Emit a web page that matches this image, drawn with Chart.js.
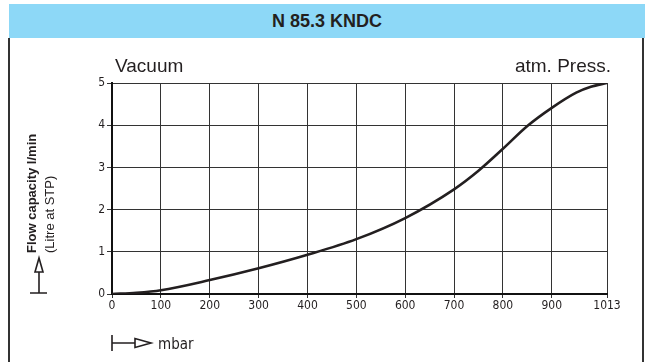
<!DOCTYPE html>
<html>
<head>
<meta charset="utf-8">
<script src="https://cdn.jsdelivr.net/npm/chart.js@4/dist/chart.umd.min.js"></script>
<style>
body{margin:0;background:#fff;}
#wrap{position:relative;width:645px;height:362px;overflow:hidden;}
#kopf{position:absolute;left:9px;top:4px;width:636px;height:34px;background:#8dd8f7;
 font:bold 18px "Liberation Sans",Arial,sans-serif;color:#231f20;text-align:center;line-height:34px;}
.rand{position:absolute;top:38px;width:2px;height:324px;background:#333;}
#c1{position:absolute;left:0;top:0;}
</style>
</head>
<body>
<div id="wrap">
<div id="kopf">N 85.3 KNDC</div>
<div class="rand" style="left:8px"></div>
<div class="rand" style="left:642px"></div>
<canvas id="c1" width="645" height="362"></canvas>
</div>
<script>
// Werte
var mbar=[0,50,100,200,300,400,500,600,700,750,800,850,900,950,980,1013];
var fluss=[0,0.03,0.09,0.33,0.61,0.93,1.30,1.80,2.48,2.92,3.44,3.98,4.41,4.77,4.91,5.0];
var xTicks=[0,100,200,300,400,500,600,700,800,900,1013];
var yTicks=[0,1,2,3,4,5];

var schmal='"Liberation Sans Narrow","DejaVu Sans Condensed",sans-serif';

var punkte=[];
for(var i=0;i<mbar.length;i++){punkte.push({x:mbar[i],y:fluss[i]});}

// Beschriftung und Pfeile
var beschriftung={
	id:'beschriftung',
	afterDraw:function(chart){
		var ctx=chart.ctx;
		ctx.save();
		ctx.fillStyle='#231f20';
		ctx.strokeStyle='#231f20';
		ctx.font='19px "Liberation Sans",Arial,sans-serif';
		ctx.textBaseline='alphabetic';
		ctx.textAlign='left';
		ctx.fillText('Vacuum',115,72);
		ctx.textAlign='right';
		ctx.fillText('atm. Press.',611,72);

		// y-Achsentitel
		ctx.save();
		ctx.translate(32,253);
		ctx.rotate(-Math.PI/2);
		ctx.textAlign='left';
		ctx.textBaseline='middle';
		ctx.font='bold 13px "Liberation Sans",Arial,sans-serif';
		ctx.fillText('Flow capacity l/min',0,0);
		ctx.font='13px "Liberation Sans",Arial,sans-serif';
		ctx.fillText('(Litre at STP)',0,18);
		ctx.restore();

		ctx.lineWidth=1.6;
		// Pfeil nach oben
		ctx.beginPath();
		ctx.moveTo(30,293);ctx.lineTo(47,293);
		ctx.moveTo(39,293);ctx.lineTo(39,272);
		ctx.stroke();
		ctx.beginPath();
		ctx.moveTo(35,272);ctx.lineTo(43,272);ctx.lineTo(39,258);ctx.closePath();
		ctx.stroke();
		// Pfeil nach rechts
		ctx.beginPath();
		ctx.moveTo(112,335);ctx.lineTo(112,351);
		ctx.moveTo(112,343);ctx.lineTo(135,343);
		ctx.stroke();
		ctx.beginPath();
		ctx.moveTo(135,338.5);ctx.lineTo(135,347.5);ctx.lineTo(151,343);ctx.closePath();
		ctx.stroke();
		ctx.font='15px '+schmal;
		ctx.textAlign='left';
		ctx.textBaseline='alphabetic';
		ctx.fillText('mbar',158,349);
		ctx.restore();
	}
};

const ctx1=document.getElementById('c1').getContext('2d');
const myChart1=new Chart(ctx1,{
	type:'line',
	data:{
		datasets:[{
			label:'Flow',
			data:punkte,
			borderColor:'#231f20',
			borderWidth:2.6,
			pointRadius:0,
			fill:false,
			cubicInterpolationMode:'monotone'
		}]
	},
	options:{
		responsive:false,
		animation:false,
		devicePixelRatio:1,
		layout:{padding:{left:82,right:38,top:83,bottom:48}},
		plugins:{legend:{display:false},tooltip:{enabled:false},title:{display:false}},
		scales:{
			x:{
				type:'linear',min:0,max:1013,
				afterBuildTicks:function(s){s.ticks=xTicks.map(function(v){return {value:v};});},
				afterFit:function(s){s.height=20;},
				grid:{color:'#333',lineWidth:1,tickLength:4,drawTicks:true},
				border:{color:'#111',width:2},
				ticks:{color:'#231f20',font:{family:schmal,size:12},padding:1,maxRotation:0,autoSkip:false,
					callback:function(v){return String(v);}}
			},
			y:{
				min:0,max:5,
				afterBuildTicks:function(s){s.ticks=yTicks.map(function(v){return {value:v};});},
				afterFit:function(s){s.width=30;},
				grid:{color:'#333',lineWidth:1,tickLength:5},
				border:{color:'#111',width:2},
				ticks:{color:'#231f20',font:{family:schmal,size:12},padding:2,
					callback:function(v){return String(v);}}
			}
		}
	},
	plugins:[beschriftung]
});
</script>
</body>
</html>
